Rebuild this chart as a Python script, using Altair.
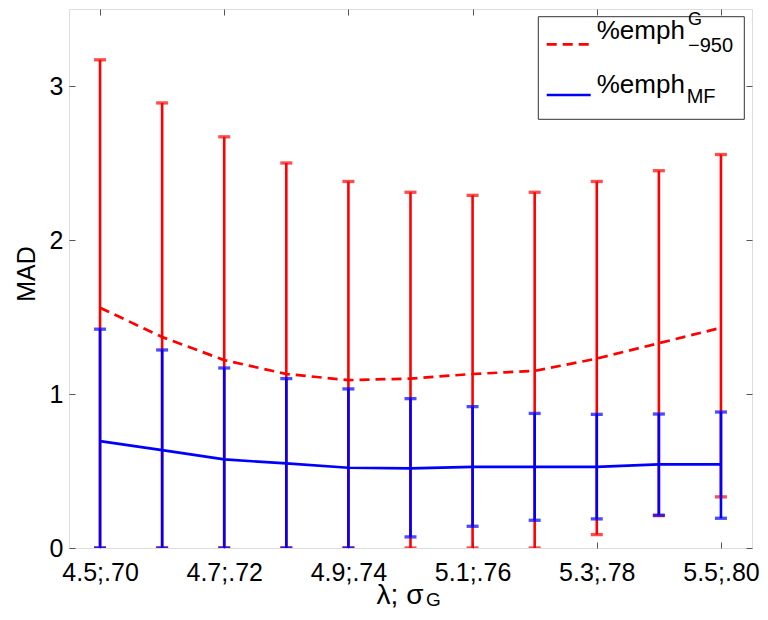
import altair as alt
import pandas as pd

# ---- data ----
lambdas = [4.5, 4.6, 4.7, 4.8, 4.9, 5.0, 5.1, 5.2, 5.3, 5.4, 5.5]

red_mean = [1.56, 1.37, 1.22, 1.13, 1.09, 1.10, 1.13, 1.15, 1.23, 1.33, 1.43]
red_hi = [3.17, 2.89, 2.67, 2.50, 2.38, 2.31, 2.29, 2.31, 2.38, 2.45, 2.555]
red_lo = [0.0, 0.0, 0.0, 0.0, 0.0, 0.0, 0.0, 0.0, 0.087, 0.21, 0.332]

blue_mean = [0.694, 0.636, 0.575, 0.549, 0.521, 0.517, 0.527, 0.527, 0.527, 0.543, 0.543]
blue_hi = [1.421, 1.286, 1.169, 1.100, 1.033, 0.970, 0.918, 0.874, 0.868, 0.870, 0.883]
blue_lo = [0.0, 0.0, 0.0, 0.0, 0.0, 0.072, 0.141, 0.180, 0.189, 0.213, 0.193]

tick_values = [4.5, 4.7, 4.9, 5.1, 5.3, 5.5]
tick_labels = ["4.5;.70", "4.7;.72", "4.9;.74", "5.1;.76", "5.3;.78", "5.5;.80"]
y_ticks = [0, 1, 2, 3]

# ---- styling ----
RED = "#ff0000"
BLUE = "#0000ff"
AX = "#555555"
FONT = "Liberation Sans"
W, H = 683, 539

xscale = alt.Scale(domain=[4.45, 5.55], nice=False, zero=False)
yscale = alt.Scale(domain=[0, 3.5], nice=False, zero=False)

label_expr = ""
for v, l in zip(tick_values, tick_labels):
    label_expr += f"abs(datum.value - {v}) < 0.01 ? '{l}' : "
label_expr += "''"

red_df = pd.DataFrame({"lam": lambdas, "mean": red_mean, "lo": red_lo, "hi": red_hi})
blue_df = pd.DataFrame({"lam": lambdas, "mean": blue_mean, "lo": blue_lo, "hi": blue_hi})


def series_layers(df, color, dash=None):
    base = alt.Chart(df)
    X = alt.X("lam:Q", scale=xscale, axis=None)
    rules = base.mark_rule(color=color, strokeWidth=2.6, clip=True).encode(
        x=X, y=alt.Y("lo:Q", scale=yscale, axis=None), y2="hi:Q")
    cap_hi = base.mark_tick(color=color, orient="horizontal", size=12, thickness=3.3, clip=True).encode(
        x=X, y=alt.Y("hi:Q", scale=yscale, axis=None))
    cap_lo = base.mark_tick(color=color, orient="horizontal", size=12, thickness=3.3, clip=True).encode(
        x=X, y=alt.Y("lo:Q", scale=yscale, axis=None))
    line_kw = dict(color=color, strokeWidth=2.7, clip=True)
    if dash:
        line_kw["strokeDash"] = dash
    line = base.mark_line(**line_kw).encode(x=X, y=alt.Y("mean:Q", scale=yscale, axis=None))
    return [rules, cap_hi, cap_lo, line]


# axes (invisible carrier layers)
axis_bl = alt.Chart(red_df).mark_point(opacity=0).encode(
    x=alt.X("lam:Q", scale=xscale, axis=alt.Axis(
        orient="bottom", offset=-6, domain=False, values=tick_values, tickSize=6,
        tickColor=AX, labelExpr=label_expr, labelFontSize=25, labelFont=FONT,
        labelColor="black", labelPadding=12, title=None, grid=False,
        labelFlush=False, labelOverlap=False, labelBound=False)),
    y=alt.Y("mean:Q", scale=yscale, axis=alt.Axis(
        orient="left", offset=-6, domain=False, values=y_ticks, tickSize=6,
        tickColor=AX, labelFontSize=25, labelFont=FONT, labelColor="black",
        labelPadding=6, title=None, grid=False, labelFlush=False,
        labelOverlap=False, format="d")),
)
axis_tr = alt.Chart(red_df).mark_point(opacity=0).encode(
    x=alt.X("lam:Q", scale=xscale, axis=alt.Axis(
        orient="top", offset=-6, domain=False, values=tick_values, tickSize=6,
        tickColor=AX, labels=False, title=None, grid=False)),
    y=alt.Y("mean:Q", scale=yscale, axis=alt.Axis(
        orient="right", offset=-6, domain=False, values=y_ticks, tickSize=6,
        tickColor=AX, labels=False, title=None, grid=False)),
)

one = pd.DataFrame({"k": [0]})


def txt(s, x, y, size, **kw):
    return alt.Chart(one).mark_text(font=FONT, fontSize=size, color="black", **kw).encode(
        x=alt.value(x), y=alt.value(y), text=alt.value(s))


# legend
leg_box = alt.Chart(one).mark_rect(fill="white", stroke="#333333", strokeWidth=1).encode(
    x=alt.value(469.3), x2=alt.value(675.3), y=alt.value(7.7), y2=alt.value(110.3))
leg_red = alt.Chart(one).mark_rule(color=RED, strokeWidth=2.7, strokeDash=[10, 6]).encode(
    x=alt.value(477.7), x2=alt.value(521.7), y=alt.value(35.3))
leg_blue = alt.Chart(one).mark_rule(color=BLUE, strokeWidth=2.7).encode(
    x=alt.value(477.7), x2=alt.value(521.7), y=alt.value(86))
leg_t1 = txt("%emph", 527.7, 30.3, 26, align="left", baseline="alphabetic")
leg_t1sup = txt("G", 619, 16, 18, align="left", baseline="alphabetic")
leg_t1sub = txt("\u2212950", 619, 42.7, 20, align="left", baseline="alphabetic")
leg_t2 = txt("%emph", 527.7, 84.3, 26, align="left", baseline="alphabetic")
leg_t2sub = txt("MF", 617.7, 94.3, 20, align="left", baseline="alphabetic")

# axis titles
ytitle = txt("MAD", -42, 265, 25, align="center", baseline="middle", angle=270)
xtitle = txt("\u03bb; \u03c3", 331, 595, 28, align="center", baseline="alphabetic")
xtitle_sub = txt("G", 357, 597, 19, align="left", baseline="alphabetic")

layers = (
    [axis_bl, axis_tr]
    + series_layers(red_df, RED, [10, 6])
    + series_layers(blue_df, BLUE)
    + [leg_box, leg_red, leg_blue, leg_t1, leg_t1sup, leg_t1sub, leg_t2, leg_t2sub,
       ytitle, xtitle, xtitle_sub]
)

chart = alt.layer(*layers).resolve_axis(x="independent", y="independent").properties(
    width=W, height=H,
    autosize=alt.AutoSizeParams(type="none"),
    padding={"left": 61, "top": 1, "right": 8, "bottom": 64},
).configure_view(stroke=AX, strokeWidth=1).configure(background="white")

chart.save("out.html", embed_options={"renderer": "svg", "actions": False})
